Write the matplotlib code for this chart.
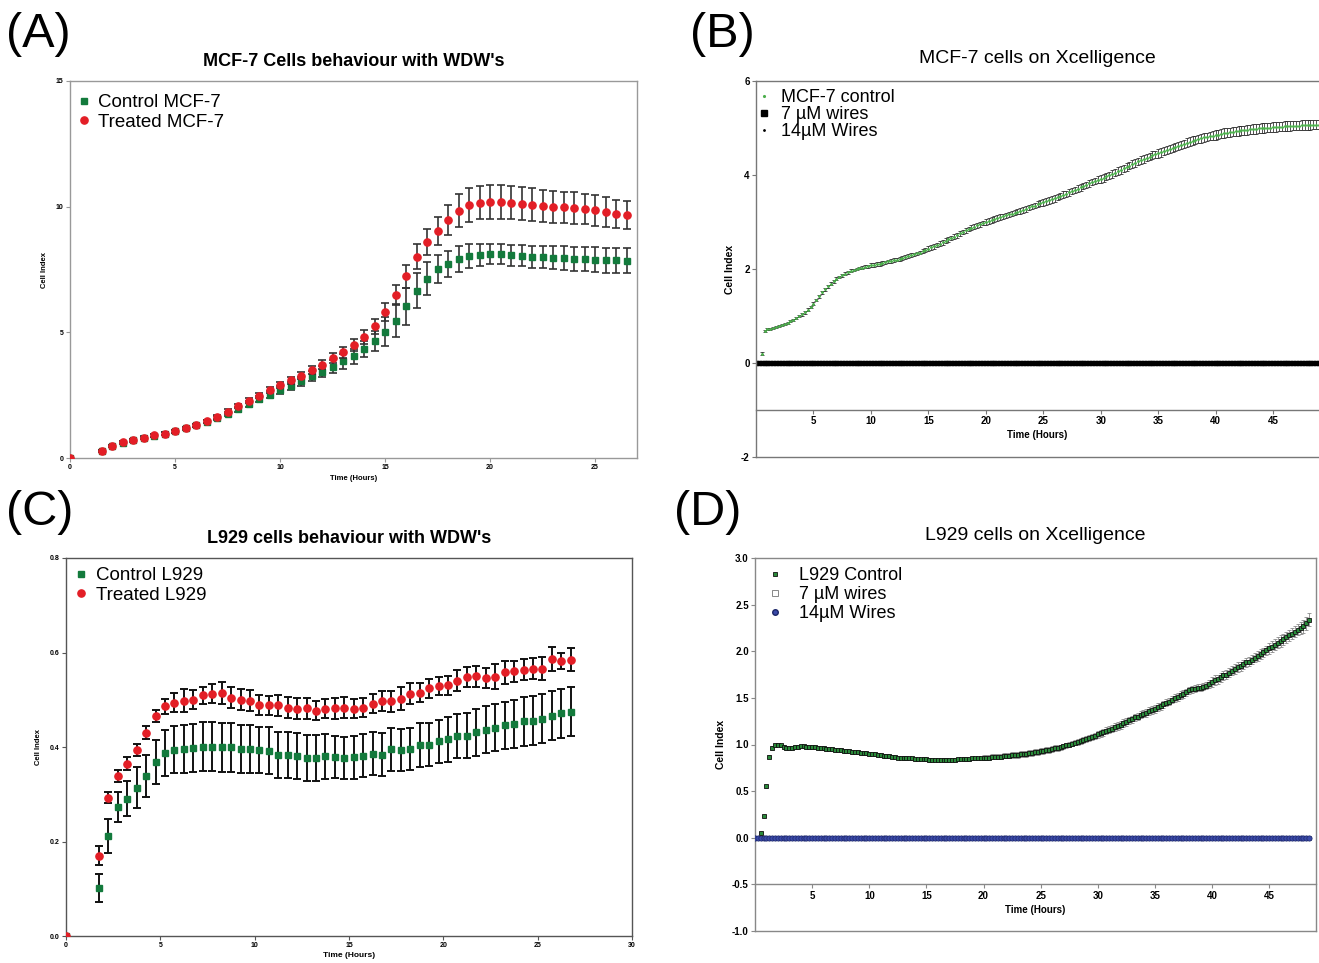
import numpy as np
import matplotlib
matplotlib.use("Agg")
import matplotlib.pyplot as plt
from matplotlib.lines import Line2D

plt.rcParams['font.family'] = ['Liberation Sans', 'DejaVu Sans']
plt.rcParams['axes.unicode_minus'] = False

# ---------------- data ----------------
# (A) MCF-7 cells behaviour with WDW's, samples every 0.5 h from 1.5 h (plus t=0)
a_t = [0.0] + [1.5 + 0.5 * i for i in range(51)]
a_ctrl = [0.0,
          0.26, 0.48, 0.61, 0.70, 0.79, 0.89, 0.97, 1.06, 1.18, 1.30,
          1.45, 1.59, 1.75, 1.93, 2.15, 2.33, 2.52, 2.70, 2.86, 3.05,
          3.25, 3.44, 3.64, 3.84, 4.05, 4.33, 4.64, 5.02, 5.47, 6.04,
          6.65, 7.13, 7.51, 7.71, 7.92, 8.03, 8.08, 8.13, 8.13, 8.07,
          8.05, 8.01, 7.99, 7.96, 7.95, 7.92, 7.92, 7.89, 7.87, 7.87,
          7.85]
a_ctrl_err = [0.0,
              0.04, 0.05, 0.05, 0.05, 0.05, 0.05, 0.05, 0.05, 0.06, 0.06,
              0.07, 0.08, 0.09, 0.10, 0.11, 0.12, 0.13, 0.15, 0.16, 0.18,
              0.20, 0.22, 0.25, 0.28, 0.30, 0.33, 0.40, 0.58, 0.66, 0.73,
              0.70, 0.65, 0.56, 0.52, 0.50, 0.48, 0.45, 0.40, 0.40, 0.42,
              0.43, 0.44, 0.45, 0.46, 0.47, 0.48, 0.48, 0.49, 0.50, 0.50,
              0.50]
a_treat = [0.0,
           0.28, 0.48, 0.64, 0.72, 0.81, 0.90, 0.97, 1.06, 1.19, 1.31,
           1.47, 1.63, 1.85, 2.07, 2.28, 2.48, 2.69, 2.90, 3.10, 3.28,
           3.52, 3.72, 3.96, 4.21, 4.50, 4.82, 5.25, 5.81, 6.48, 7.23,
           8.00, 8.60, 9.02, 9.47, 9.84, 10.07, 10.16, 10.19, 10.19, 10.16,
           10.12, 10.07, 10.03, 9.99, 9.97, 9.95, 9.91, 9.85, 9.79, 9.72,
           9.66]
a_treat_err = [0.0,
               0.04, 0.04, 0.04, 0.04, 0.05, 0.05, 0.05, 0.05, 0.05, 0.06,
               0.06, 0.07, 0.08, 0.09, 0.10, 0.11, 0.12, 0.13, 0.14, 0.15,
               0.16, 0.18, 0.20, 0.22, 0.25, 0.28, 0.30, 0.35, 0.40, 0.45,
               0.50, 0.52, 0.55, 0.60, 0.65, 0.67, 0.67, 0.67, 0.67, 0.67,
               0.66, 0.66, 0.65, 0.64, 0.63, 0.62, 0.61, 0.60, 0.58, 0.56,
               0.55]

# (C) L929 cells behaviour with WDW's, samples every 0.5 h from 1.75 h (plus t=0)
c_t = [0.0] + [1.75 + 0.5 * i for i in range(51)]
c_ctrl = [0.0,
          0.102, 0.212, 0.273, 0.291, 0.314, 0.339, 0.368, 0.387, 0.394, 0.396,
          0.398, 0.401, 0.401, 0.399, 0.399, 0.396, 0.396, 0.394, 0.392, 0.383,
          0.383, 0.381, 0.377, 0.377, 0.380, 0.379, 0.377, 0.378, 0.382, 0.386,
          0.384, 0.395, 0.394, 0.396, 0.404, 0.405, 0.412, 0.416, 0.423, 0.424,
          0.431, 0.437, 0.441, 0.446, 0.448, 0.454, 0.456, 0.460, 0.466, 0.471,
          0.475]
c_ctrl_err = [0.0,
              0.029, 0.036, 0.032, 0.037, 0.044, 0.044, 0.047, 0.048, 0.050, 0.050,
              0.050, 0.052, 0.051, 0.051, 0.051, 0.050, 0.050, 0.049, 0.050, 0.049,
              0.049, 0.048, 0.048, 0.048, 0.047, 0.044, 0.044, 0.045, 0.045, 0.045,
              0.045, 0.046, 0.045, 0.044, 0.046, 0.046, 0.046, 0.047, 0.047, 0.048,
              0.049, 0.049, 0.050, 0.050, 0.051, 0.051, 0.051, 0.052, 0.052, 0.052,
              0.052]
c_treat = [0.0,
           0.170, 0.293, 0.339, 0.365, 0.393, 0.430, 0.466, 0.486, 0.494, 0.498,
           0.500, 0.510, 0.513, 0.514, 0.504, 0.500, 0.498, 0.488, 0.488, 0.488,
           0.483, 0.481, 0.482, 0.477, 0.481, 0.482, 0.483, 0.481, 0.483, 0.492,
           0.497, 0.497, 0.502, 0.513, 0.515, 0.524, 0.529, 0.531, 0.540, 0.548,
           0.550, 0.546, 0.549, 0.558, 0.560, 0.564, 0.566, 0.566, 0.586, 0.582,
           0.585]
c_treat_err = [0.0,
               0.020, 0.012, 0.013, 0.013, 0.013, 0.014, 0.013, 0.016, 0.020, 0.024,
               0.020, 0.018, 0.020, 0.023, 0.022, 0.022, 0.022, 0.021, 0.020, 0.022,
               0.022, 0.022, 0.022, 0.020, 0.020, 0.022, 0.022, 0.020, 0.020, 0.020,
               0.021, 0.022, 0.024, 0.022, 0.020, 0.020, 0.020, 0.020, 0.022, 0.022,
               0.022, 0.022, 0.026, 0.024, 0.022, 0.022, 0.023, 0.024, 0.025, 0.016,
               0.024]

# (B) MCF-7 on Xcelligence, control sampled every 0.25 h from 0.5 h
b_start, b_step = 0.5, 0.25
b_ctrl = [0.20, 0.68,
          0.72, 0.73, 0.75, 0.76,
          0.78, 0.80, 0.83, 0.86,
          0.89, 0.92, 0.96, 1.00,
          1.04, 1.08, 1.13, 1.19,
          1.26, 1.34, 1.42, 1.50,
          1.57, 1.63, 1.69, 1.74,
          1.79, 1.83, 1.87, 1.90,
          1.93, 1.96, 1.98, 2.00,
          2.02, 2.03, 2.05, 2.06,
          2.08, 2.09, 2.10, 2.11,
          2.13, 2.14, 2.16, 2.17,
          2.19, 2.20, 2.22, 2.23,
          2.25, 2.27, 2.29, 2.31,
          2.33, 2.35, 2.38, 2.40,
          2.43, 2.46, 2.48, 2.51,
          2.54, 2.57, 2.60, 2.63,
          2.66, 2.69, 2.72, 2.76,
          2.79, 2.82, 2.85, 2.88,
          2.90, 2.93, 2.95, 2.98,
          3.00, 3.02, 3.04, 3.06,
          3.08, 3.10, 3.12, 3.14,
          3.16, 3.18, 3.20, 3.22,
          3.24, 3.26, 3.28, 3.31,
          3.33, 3.35, 3.38, 3.40,
          3.42, 3.44, 3.46, 3.48,
          3.50, 3.53, 3.55, 3.58,
          3.60, 3.63, 3.66, 3.68,
          3.71, 3.74, 3.77, 3.79,
          3.82, 3.85, 3.87, 3.90,
          3.92, 3.94, 3.97, 3.99,
          4.02, 4.05, 4.08, 4.11,
          4.14, 4.17, 4.20, 4.23,
          4.26, 4.29, 4.32, 4.34,
          4.37, 4.39, 4.42, 4.44,
          4.46, 4.48, 4.51, 4.53,
          4.55, 4.57, 4.60, 4.62,
          4.64, 4.66, 4.69, 4.71,
          4.73, 4.75, 4.77, 4.78,
          4.80, 4.81, 4.83, 4.84,
          4.85, 4.86, 4.88, 4.89,
          4.90, 4.91, 4.92, 4.93,
          4.94, 4.95, 4.95, 4.96,
          4.97, 4.98, 4.98, 4.99,
          5.00, 5.00, 5.01, 5.01,
          5.02, 5.02, 5.03, 5.03,
          5.04, 5.04, 5.04, 5.05,
          5.05, 5.05, 5.06, 5.06,
          5.06, 5.06, 5.07, 5.07,
          5.07]
b_ctrl_err = [0.03, 0.03,
              0.02, 0.02, 0.02, 0.02,
              0.02, 0.02, 0.02, 0.02,
              0.02, 0.02, 0.02, 0.02,
              0.03, 0.03, 0.03, 0.03,
              0.03, 0.03, 0.03, 0.03,
              0.03, 0.03, 0.03, 0.03,
              0.03, 0.03, 0.03, 0.03,
              0.03, 0.03, 0.03, 0.03,
              0.03, 0.03, 0.03, 0.03,
              0.04, 0.04, 0.04, 0.04,
              0.04, 0.04, 0.04, 0.04,
              0.04, 0.04, 0.04, 0.04,
              0.04, 0.04, 0.04, 0.04,
              0.04, 0.04, 0.04, 0.04,
              0.05, 0.05, 0.05, 0.05,
              0.05, 0.05, 0.05, 0.05,
              0.05, 0.05, 0.05, 0.05,
              0.05, 0.05, 0.05, 0.05,
              0.05, 0.05, 0.05, 0.05,
              0.06, 0.06, 0.06, 0.06,
              0.06, 0.06, 0.06, 0.06,
              0.06, 0.06, 0.06, 0.06,
              0.06, 0.06, 0.06, 0.06,
              0.06, 0.06, 0.06, 0.06,
              0.07, 0.07, 0.07, 0.07,
              0.07, 0.07, 0.07, 0.07,
              0.07, 0.07, 0.07, 0.07,
              0.07, 0.07, 0.07, 0.07,
              0.07, 0.07, 0.07, 0.07,
              0.08, 0.08, 0.08, 0.08,
              0.08, 0.08, 0.08, 0.08,
              0.08, 0.08, 0.08, 0.08,
              0.08, 0.08, 0.08, 0.08,
              0.08, 0.08, 0.08, 0.08,
              0.09, 0.09, 0.09, 0.09,
              0.09, 0.09, 0.09, 0.09,
              0.09, 0.09, 0.09, 0.09,
              0.09, 0.09, 0.09, 0.09,
              0.09, 0.09, 0.09, 0.09,
              0.10, 0.10, 0.10, 0.10,
              0.10, 0.10, 0.10, 0.10,
              0.10, 0.10, 0.10, 0.10,
              0.10, 0.10, 0.10, 0.10,
              0.10, 0.10, 0.10, 0.10,
              0.10, 0.10, 0.10, 0.10,
              0.10, 0.10, 0.10, 0.10,
              0.10, 0.10, 0.10, 0.10,
              0.10, 0.10, 0.10, 0.10,
              0.10]
# wire-treated wells read zero the whole run (0 to 49 h, every 0.25 h)
b_zero_t = [0.25 * i for i in range(197)]
b_7um = [0.0] * len(b_zero_t)
b_14um = [0.0] * len(b_zero_t)

# (D) L929 on Xcelligence, control sampled every 0.25 h from 0.5 h
d_start, d_step = 0.5, 0.25
d_ctrl = [0.05, 0.23,
          0.55, 0.87, 0.96, 0.99,
          1.00, 0.99, 0.97, 0.96,
          0.96, 0.96, 0.97, 0.97,
          0.98, 0.98, 0.97, 0.97,
          0.97, 0.97, 0.96, 0.96,
          0.96, 0.95, 0.95, 0.95,
          0.94, 0.94, 0.94, 0.93,
          0.93, 0.93, 0.92, 0.92,
          0.92, 0.91, 0.91, 0.91,
          0.90, 0.90, 0.90, 0.89,
          0.89, 0.88, 0.88, 0.88,
          0.87, 0.87, 0.86, 0.86,
          0.86, 0.85, 0.85, 0.85,
          0.84, 0.84, 0.84, 0.84,
          0.84, 0.83, 0.83, 0.83,
          0.83, 0.83, 0.83, 0.83,
          0.83, 0.83, 0.83, 0.84,
          0.84, 0.84, 0.84, 0.84,
          0.85, 0.85, 0.85, 0.85,
          0.86, 0.86, 0.86, 0.87,
          0.87, 0.87, 0.87, 0.88,
          0.88, 0.88, 0.89, 0.89,
          0.89, 0.90, 0.90, 0.90,
          0.91, 0.91, 0.92, 0.92,
          0.93, 0.93, 0.94, 0.94,
          0.95, 0.96, 0.96, 0.97,
          0.98, 0.99, 1.00, 1.01,
          1.02, 1.03, 1.04, 1.05,
          1.06, 1.07, 1.08, 1.09,
          1.11, 1.12, 1.13, 1.15,
          1.16, 1.17, 1.19, 1.20,
          1.21, 1.23, 1.24, 1.26,
          1.27, 1.29, 1.30, 1.32,
          1.33, 1.34, 1.36, 1.37,
          1.38, 1.40, 1.41, 1.43,
          1.45, 1.46, 1.48, 1.50,
          1.51, 1.53, 1.54, 1.56,
          1.58, 1.59, 1.60, 1.61,
          1.61, 1.62, 1.63, 1.65,
          1.67, 1.69, 1.70, 1.72,
          1.74, 1.75, 1.77, 1.79,
          1.81, 1.83, 1.84, 1.86,
          1.88, 1.89, 1.91, 1.93,
          1.95, 1.97, 1.99, 2.01,
          2.03, 2.05, 2.07, 2.09,
          2.11, 2.13, 2.15, 2.17,
          2.19, 2.21, 2.23, 2.25,
          2.27, 2.30, 2.34]
d_ctrl_err = [0.01, 0.01,
              0.02, 0.02, 0.02, 0.02,
              0.02, 0.02, 0.02, 0.02,
              0.02, 0.02, 0.02, 0.02,
              0.02, 0.02, 0.02, 0.02,
              0.02, 0.02, 0.02, 0.02,
              0.02, 0.02, 0.02, 0.02,
              0.02, 0.02, 0.02, 0.02,
              0.02, 0.02, 0.02, 0.02,
              0.02, 0.02, 0.02, 0.02,
              0.02, 0.02, 0.02, 0.02,
              0.02, 0.02, 0.02, 0.02,
              0.02, 0.02, 0.02, 0.02,
              0.02, 0.02, 0.02, 0.02,
              0.02, 0.02, 0.02, 0.02,
              0.02, 0.02, 0.02, 0.02,
              0.02, 0.02, 0.02, 0.02,
              0.02, 0.02, 0.02, 0.02,
              0.02, 0.02, 0.02, 0.02,
              0.02, 0.02, 0.02, 0.02,
              0.03, 0.03, 0.03, 0.03,
              0.03, 0.03, 0.03, 0.03,
              0.03, 0.03, 0.03, 0.03,
              0.03, 0.03, 0.03, 0.03,
              0.03, 0.03, 0.03, 0.03,
              0.03, 0.03, 0.03, 0.03,
              0.03, 0.03, 0.03, 0.03,
              0.03, 0.03, 0.03, 0.03,
              0.03, 0.03, 0.03, 0.03,
              0.03, 0.03, 0.03, 0.03,
              0.04, 0.04, 0.04, 0.04,
              0.04, 0.04, 0.04, 0.04,
              0.04, 0.04, 0.04, 0.04,
              0.04, 0.04, 0.04, 0.04,
              0.04, 0.04, 0.04, 0.04,
              0.04, 0.04, 0.04, 0.04,
              0.04, 0.04, 0.04, 0.04,
              0.04, 0.04, 0.04, 0.04,
              0.04, 0.04, 0.04, 0.04,
              0.04, 0.04, 0.04, 0.04,
              0.05, 0.05, 0.05, 0.05,
              0.05, 0.05, 0.05, 0.05,
              0.05, 0.05, 0.05, 0.05,
              0.05, 0.05, 0.05, 0.05,
              0.05, 0.05, 0.05, 0.05,
              0.06, 0.06, 0.06, 0.06,
              0.06, 0.06, 0.06, 0.06,
              0.06, 0.06, 0.06, 0.06,
              0.07, 0.07, 0.07]
d_zero_t = [0.25 * i for i in range(195)]
d_7um = [0.0] * len(d_zero_t)
d_14um = [0.0] * len(d_zero_t)

b_t = [b_start + b_step * i for i in range(len(b_ctrl))]
d_t = [d_start + d_step * i for i in range(len(d_ctrl))]

# ---------------- figure ----------------
W, H = 1319, 963
fig = plt.figure(figsize=(W / 100, H / 100), dpi=100)

green = '#137a3c'
red = '#e31e26'


def box(x0, y0, x1, y1):
    # pixel box -> figure fraction rect
    return [x0 / W, 1 - y1 / H, (x1 - x0) / W, (y1 - y0) / H]


def small_style(ax, col, fs):
    for s in ax.spines.values():
        s.set_color(col)
        s.set_linewidth(1.0)
    ax.tick_params(labelsize=fs, length=3, width=0.8, color=col, pad=1.5)
    for lab in ax.get_xticklabels() + ax.get_yticklabels():
        lab.set_fontweight('bold')


# (A)
axA = fig.add_axes(box(70, 81, 637, 458))
axA.errorbar(a_t, a_ctrl, yerr=a_ctrl_err, fmt='s', ms=5, color=green, mec=green,
             ecolor='#333333', elinewidth=1.2, capsize=2.8, capthick=1.2, zorder=3)
axA.errorbar(a_t, a_treat, yerr=a_treat_err, fmt='o', ms=5.2, color=red, mec=red,
             ecolor='#333333', elinewidth=1.2, capsize=2.8, capthick=1.2, zorder=4)
axA.set_xlim(0, 27)
axA.set_ylim(0, 15)
axA.set_xticks([0, 5, 10, 15, 20, 25])
axA.set_yticks([0, 5, 10, 15])
small_style(axA, '#999999', 5)
axA.set_xlabel('Time (Hours)', fontsize=5.5, fontweight='bold', labelpad=3)
axA.set_ylabel('Cell Index', fontsize=5.5, fontweight='bold', labelpad=6)
axA.set_title("MCF-7 Cells behaviour with WDW's", fontsize=13, fontweight='bold', pad=11)
hA = [Line2D([], [], ls='', marker='s', ms=5, color=green),
      Line2D([], [], ls='', marker='o', ms=5.2, color=red)]
axA.legend(hA, ['Control MCF-7', 'Treated MCF-7'], loc='upper left', frameon=False,
           fontsize=13.5, handlelength=0.6, handletextpad=0.45, labelspacing=0.12,
           borderaxespad=0.3, borderpad=0.4, bbox_to_anchor=(-0.008, 1.0))

# (B)
axB = fig.add_axes(box(756, 81, 1319, 457))
axB.plot(b_zero_t, b_7um, 's', ms=2.8, color='black', zorder=2)
axB.plot(b_zero_t, b_14um, '.', ms=1.5, color='black', zorder=2)
axB.errorbar(b_t, b_ctrl, yerr=b_ctrl_err, fmt='.', ms=2.2, color='#4cae4c', mec='#4cae4c',
             ecolor='#222222', elinewidth=0.55, capsize=1.5, capthick=0.55, zorder=3)
axB.set_xlim(0, 49)
axB.set_ylim(-2, 6)
axB.spines['bottom'].set_position(('data', -1))
axB.spines['right'].set_visible(False)
axB.plot([0, 49], [-2, -2], color='#777777', lw=1.0, clip_on=False)
axB.set_xticks([5, 10, 15, 20, 25, 30, 35, 40, 45])
axB.set_yticks([-2, 0, 2, 4, 6])
small_style(axB, '#777777', 7)
axB.set_xlabel('Time (Hours)', fontsize=7, fontweight='bold', labelpad=3)
axB.set_ylabel('Cell Index', fontsize=7.5, fontweight='bold', labelpad=4)
axB.set_title('MCF-7 cells on Xcelligence', fontsize=14, pad=13)
hB = [Line2D([], [], ls='', marker='.', ms=2.5, color='#4cae4c'),
      Line2D([], [], ls='', marker='s', ms=4, color='black'),
      Line2D([], [], ls='', marker='.', ms=2, color='black')]
axB.legend(hB, ['MCF-7 control', '7 µM wires', '14µM Wires'], loc='upper left',
           frameon=False, fontsize=13, handlelength=0.6, handletextpad=0.6,
           labelspacing=0.0, borderaxespad=0.1, borderpad=0.35,
           bbox_to_anchor=(-0.009, 1.0))

# (C)
axC = fig.add_axes(box(66, 558, 632, 936))
axC.errorbar(c_t, c_ctrl, yerr=c_ctrl_err, fmt='s', ms=5, color=green, mec=green,
             ecolor='#111111', elinewidth=1.4, capsize=2.8, capthick=1.4, zorder=3)
axC.errorbar(c_t, c_treat, yerr=c_treat_err, fmt='o', ms=5.2, color=red, mec=red,
             ecolor='#111111', elinewidth=1.4, capsize=2.8, capthick=1.4, zorder=4)
axC.set_xlim(0, 30)
axC.set_ylim(0, 0.8)
axC.set_xticks([0, 5, 10, 15, 20, 25, 30])
axC.set_yticks([0.0, 0.2, 0.4, 0.6, 0.8])
axC.set_yticklabels(['0.0', '0.2', '0.4', '0.6', '0.8'])
small_style(axC, '#555555', 5)
axC.set_xlabel('Time (Hours)', fontsize=6, fontweight='bold', labelpad=2)
axC.set_ylabel('Cell Index', fontsize=5.5, fontweight='bold', labelpad=6)
axC.set_title("L929 cells behaviour with WDW's", fontsize=13, fontweight='bold', pad=11)
hC = [Line2D([], [], ls='', marker='s', ms=5, color=green),
      Line2D([], [], ls='', marker='o', ms=5.2, color=red)]
axC.legend(hC, ['Control L929', 'Treated L929'], loc='upper left', frameon=False,
           fontsize=13.5, handlelength=0.6, handletextpad=0.5, labelspacing=0.1,
           borderaxespad=0.3, borderpad=0.2)

# (D)
axD = fig.add_axes(box(755, 558, 1316, 931))
axD.plot(d_zero_t, d_7um, 's', ms=3.5, mfc='white', mec='#888888', mew=0.6, zorder=2)
axD.plot(d_zero_t, d_14um, 'o', ms=3.8, color='#3a4aa8', mec='#1c2668', mew=0.5, zorder=3)
axD.errorbar(d_t, d_ctrl, yerr=d_ctrl_err, fmt='s', ms=3.2, mfc='#2a8a3a', mec='#111111',
             mew=0.6, ecolor='#8a8a8a', elinewidth=0.6, capsize=1.5, capthick=0.6, zorder=4)
axD.set_xlim(0, 49.1)
axD.set_ylim(-1.0, 3.0)
axD.spines['bottom'].set_position(('data', -0.5))
axD.plot([0, 49.1], [-1.0, -1.0], color='#888888', lw=1.0, clip_on=False)
axD.set_xticks([5, 10, 15, 20, 25, 30, 35, 40, 45])
axD.set_yticks([-1.0, -0.5, 0.0, 0.5, 1.0, 1.5, 2.0, 2.5, 3.0])
axD.set_yticklabels(['-1.0', '-0.5', '0.0', '0.5', '1.0', '1.5', '2.0', '2.5', '3.0'])
small_style(axD, '#888888', 7)
axD.set_xlabel('Time (Hours)', fontsize=7, fontweight='bold', labelpad=3)
axD.set_ylabel('Cell Index', fontsize=7.5, fontweight='bold', labelpad=4)
axD.set_title('L929 cells on Xcelligence', fontsize=14, pad=13)
hD = [Line2D([], [], ls='', marker='s', ms=3.5, mfc='#2a8a3a', mec='#111111', mew=0.6),
      Line2D([], [], ls='', marker='s', ms=4, mfc='white', mec='#888888', mew=0.7),
      Line2D([], [], ls='', marker='o', ms=4, color='#3a4aa8', mec='#1c2668')]
axD.legend(hD, ['L929 Control', '7 µM wires', '14µM Wires'], loc='upper left',
           frameon=False, fontsize=13, handlelength=0.6, handletextpad=1.0,
           labelspacing=0.12, borderaxespad=0.3, borderpad=0.2,
           bbox_to_anchor=(0.01, 1.0))

# panel letters
for txt, x, y in [('(A)', 6, 12), ('(B)', 690, 12), ('(C)', 6, 490), ('(D)', 674, 490)]:
    fig.text(x / W, 1 - y / H, txt, fontsize=35, ha='left', va='top')

fig.savefig('out.png', dpi=100)
